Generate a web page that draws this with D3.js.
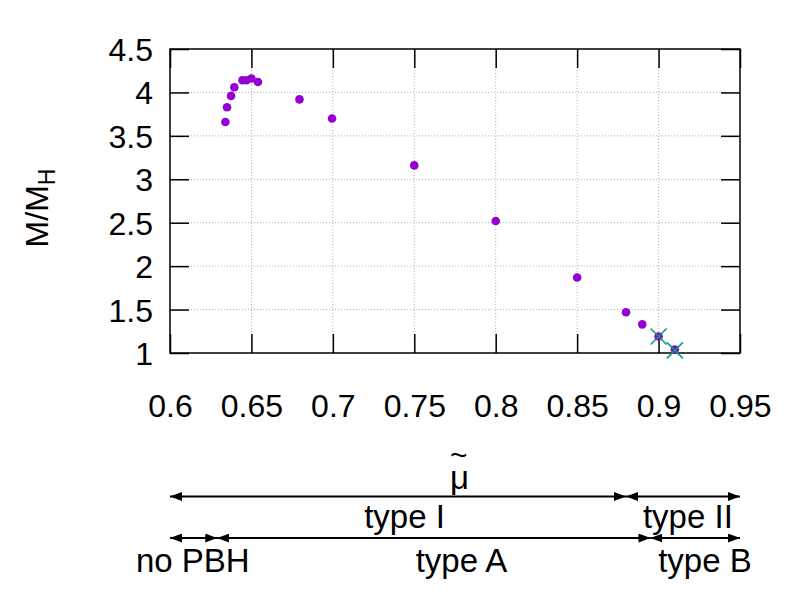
<!DOCTYPE html>
<html>
<head>
<meta charset="utf-8">
<script src="https://cdn.jsdelivr.net/npm/d3@7"></script>
<style>
  body { margin: 0; background: #fff; }
  text { font-family: "Liberation Sans", Arial, sans-serif; fill: #000; }
</style>
</head>
<body>
<div id="chart"></div>
<script>
let w = 797; let h = 598;

// data
let muValues = [0.634, 0.635, 0.6375, 0.6395, 0.6445, 0.647, 0.650, 0.654, 0.6795, 0.6995, 0.75, 0.80, 0.85, 0.88, 0.89, 0.90, 0.91];
let massValues = [3.66, 3.83, 3.96, 4.06, 4.14, 4.14, 4.16, 4.12, 3.92, 3.70, 3.16, 2.52, 1.87, 1.47, 1.33, 1.19, 1.04];
let crossMu = [0.90, 0.91];
let crossMass = [1.19, 1.03];
let xTicks = [0.6, 0.65, 0.7, 0.75, 0.8, 0.85, 0.9, 0.95];
let yTicks = [1, 1.5, 2, 2.5, 3, 3.5, 4, 4.5];

// region arrows under the plot (bounds and label positions in mu)
let row1Bounds = [0.6, 0.88, 0.95];
let row1Labels = ["type I", "type II"];
let row1LabelAt = [0.744, 0.918];
let row2Bounds = [0.6, 0.629, 0.895, 0.95];
let row2Labels = ["no PBH", "type A", "type B"];
let row2LabelAt = [0.614, 0.779, 0.9285];
let muLabelAt = 0.778;

let pL = 170, pR = 740, pT = 49, pB = 353;

let svg = d3.select("#chart").append("svg")
  .attr("width", w).attr("height", h);

let xScale = d3.scaleLinear().domain([0.6, 0.95]).range([pL, pR]);
let yScale = d3.scaleLinear().domain([1, 4.5]).range([pB, pT]);

//grid
let grid = svg.append("g")
  .attr("stroke", "#b0b0b0")
  .attr("stroke-width", 1)
  .attr("stroke-dasharray", "1,2");

grid.selectAll("line.gx").data(xTicks.slice(1, -1)).enter().append("line")
  .attr("x1", d => xScale(d)).attr("x2", d => xScale(d))
  .attr("y1", pT).attr("y2", pB);

grid.selectAll("line.gy").data(yTicks.slice(1, -1)).enter().append("line")
  .attr("y1", d => yScale(d)).attr("y2", d => yScale(d))
  .attr("x1", pL).attr("x2", pR);

//axes with mirrored inward ticks
let tl = 19;
let fmt = d => d3.format("")(d);

let axB = svg.append("g").attr("transform", "translate(0," + pB + ")")
  .call(d3.axisBottom(xScale).tickValues(xTicks).tickSize(-tl).tickFormat(fmt));
let axT = svg.append("g").attr("transform", "translate(0," + pT + ")")
  .call(d3.axisTop(xScale).tickValues(xTicks).tickSize(-tl).tickFormat(""));
let axL = svg.append("g").attr("transform", "translate(" + pL + ",0)")
  .call(d3.axisLeft(yScale).tickValues(yTicks).tickSize(-tl).tickFormat(fmt));
let axR = svg.append("g").attr("transform", "translate(" + pR + ",0)")
  .call(d3.axisRight(yScale).tickValues(yTicks).tickSize(-tl).tickFormat(""));

[axB, axT, axL, axR].forEach(a => {
  a.select(".domain").remove();
  a.selectAll(".tick line").attr("stroke", "#000").attr("stroke-width", 1.5);
});

axB.selectAll(".tick text")
  .attr("font-size", "32px")
  .attr("font-family", "Liberation Sans, Arial, sans-serif")
  .attr("y", 64).attr("dy", 0);

axL.selectAll(".tick text")
  .attr("font-size", "32px")
  .attr("font-family", "Liberation Sans, Arial, sans-serif")
  .attr("x", -17).attr("dy", "0.36em");

//frame
svg.append("rect")
  .attr("x", pL).attr("y", pT)
  .attr("width", pR - pL).attr("height", pB - pT)
  .attr("fill", "none").attr("stroke", "#000").attr("stroke-width", 1.5);

//points
svg.append("g").selectAll("circle").data(muValues).enter().append("circle")
  .attr("cx", d => xScale(d))
  .attr("cy", (d, i) => yScale(massValues[i]))
  .attr("r", 4.3)
  .attr("fill", "#9400d3");

//crosses
let cs = 8;
svg.append("g").selectAll("path").data(crossMu).enter().append("path")
  .attr("d", (d, i) => {
    let x = xScale(d), y = yScale(crossMass[i]);
    return "M" + (x - cs) + "," + (y - cs) + "L" + (x + cs) + "," + (y + cs) +
      "M" + (x - cs) + "," + (y + cs) + "L" + (x + cs) + "," + (y - cs);
  })
  .attr("stroke", "#009e73").attr("stroke-width", 1.5).attr("fill", "none");

//y label
svg.append("text")
  .attr("transform", "translate(48,208) rotate(-90)")
  .attr("text-anchor", "middle")
  .attr("font-size", "32px")
  .html('M/M<tspan font-size="23px" dy="7">H</tspan>');

//arrows
let defs = svg.append("defs");
defs.append("marker")
  .attr("id", "head")
  .attr("viewBox", "0 0 12 9")
  .attr("refX", 12).attr("refY", 4.5)
  .attr("markerWidth", 12).attr("markerHeight", 9)
  .attr("markerUnits", "userSpaceOnUse")
  .attr("orient", "auto-start-reverse")
  .append("path").attr("d", "M0,0L12,4.5L0,9Z").attr("fill", "#000");

function arrowRow(bounds, labels, labelAt, y, ly) {
  let segs = bounds.slice(0, -1).map((b, i) => [b, bounds[i + 1]]);
  svg.append("g").selectAll("line").data(segs).enter().append("line")
    .attr("x1", d => xScale(d[0])).attr("x2", d => xScale(d[1]))
    .attr("y1", y).attr("y2", y)
    .attr("stroke", "#000").attr("stroke-width", 2)
    .attr("marker-start", "url(#head)")
    .attr("marker-end", "url(#head)");
  svg.append("g").selectAll("text").data(labels).enter().append("text")
    .attr("x", (d, i) => xScale(labelAt[i]))
    .attr("y", ly)
    .attr("text-anchor", "middle")
    .attr("font-size", "33px")
    .text(d => d);
}

arrowRow(row1Bounds, row1Labels, row1LabelAt, 496.5, 528);
arrowRow(row2Bounds, row2Labels, row2LabelAt, 538, 572);

//mu tilde label: the tilde is drawn over the mu on purpose
let mu = svg.append("text").attr("x", xScale(muLabelAt) - 10).attr("y", 489)
  .attr("font-size", "33px");
mu.append("tspan").text("μ");
mu.append("tspan").attr("dx", -19).attr("dy", -24)
  .attr("font-size", "30px").text("~");
</script>
</body>
</html>
